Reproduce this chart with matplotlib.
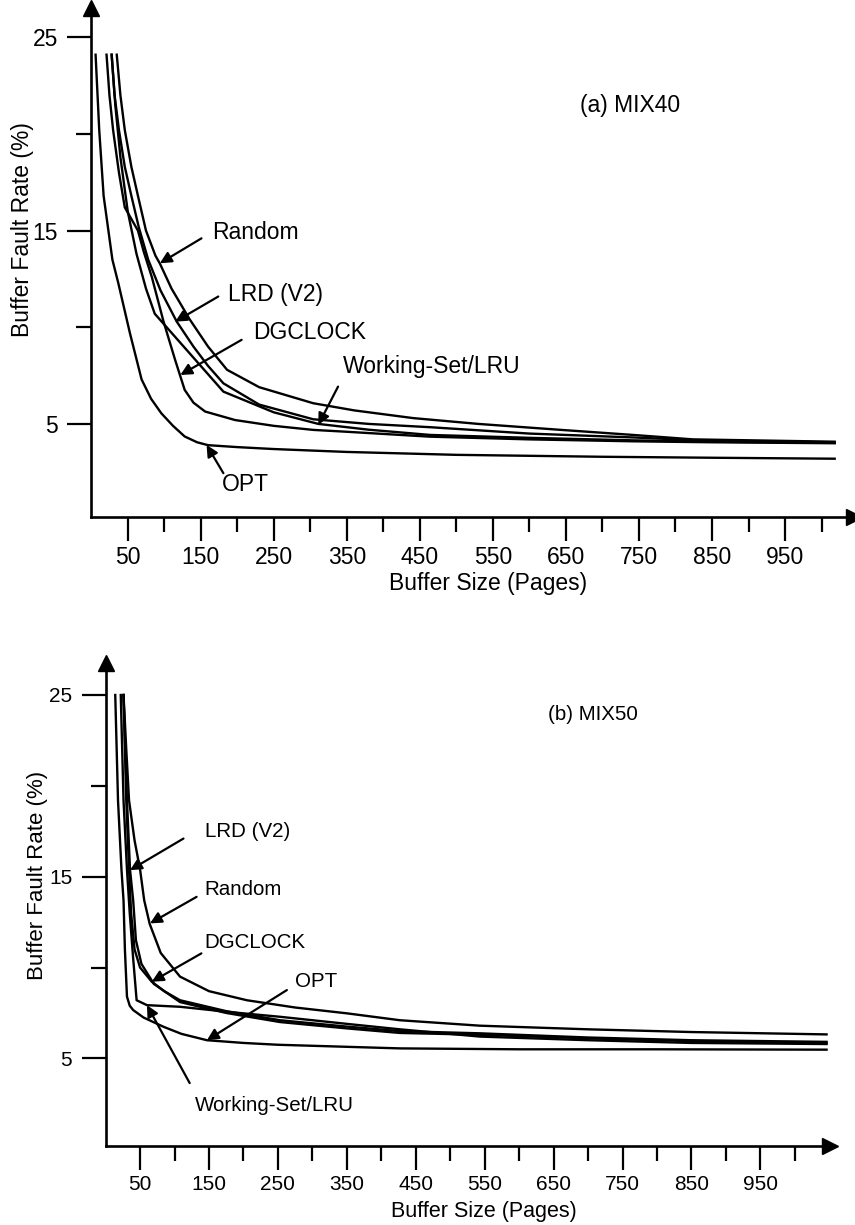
import matplotlib
matplotlib.use("Agg")
import matplotlib.pyplot as plt
from matplotlib.ticker import FixedLocator, NullFormatter

plt.rcParams['font.family'] = ['Liberation Sans', 'DejaVu Sans']

# ---------------- data: panel (a) MIX40 ----------------
a_opt_x = [6, 11, 17, 29, 37, 45, 53, 69, 82, 96, 112, 128, 145, 160, 200, 250, 350, 500, 700, 850, 1018]
a_opt_y = [24.1, 20.2, 16.8, 13.5, 12.3, 11.0, 9.7, 7.3, 6.3, 5.55, 4.9, 4.35, 4.05, 3.9, 3.8, 3.7, 3.55, 3.4, 3.3, 3.25, 3.2]

a_rand_x = [35, 40, 46, 55, 64, 75, 88, 94, 110, 135, 160, 186, 230, 304, 360, 441, 530, 640, 742, 824, 1018]
a_rand_y = [24.1, 22.0, 20.2, 18.3, 16.8, 15.0, 13.7, 13.3, 12.0, 10.4, 9.0, 7.8, 6.9, 6.07, 5.7, 5.3, 5.0, 4.7, 4.43, 4.2, 4.08]

a_lrd_x = [28, 32, 38, 46, 55, 65, 78, 95, 117, 140, 160, 181, 230, 304, 380, 464, 600, 742, 850, 1018]
a_lrd_y = [24.1, 22.0, 20.2, 18.3, 16.8, 15.2, 13.5, 11.9, 10.3, 9.0, 8.0, 7.1, 6.0, 5.24, 5.0, 4.83, 4.5, 4.3, 4.12, 4.05]

a_ws_x = [28, 33, 40, 50, 62, 75, 87, 181, 250, 311, 380, 464, 600, 742, 850, 1018]
a_ws_y = [24.1, 21.5, 18.8, 16.0, 13.8, 12.0, 10.7, 6.67, 5.6, 5.0, 4.7, 4.43, 4.28, 4.15, 4.08, 4.02]

a_dg_x = [21, 25, 30, 38, 46, 55, 64, 72, 83, 99, 115, 128, 140, 156, 197, 250, 304, 347, 464, 600, 742, 850, 1018]
a_dg_y = [24.1, 22.0, 20.2, 18.0, 16.2, 15.6, 15.0, 13.9, 12.6, 10.3, 8.3, 6.76, 6.1, 5.64, 5.2, 4.9, 4.69, 4.6, 4.34, 4.2, 4.1, 4.05, 4.0]

# ---------------- data: panel (b) MIX50 ----------------
b_opt_x = [14, 18, 23, 26, 28, 31, 35, 40, 55, 84, 110, 147, 200, 250, 427, 600, 800, 1046]
b_opt_y = [25.0, 19.2, 15.4, 13.7, 11.0, 8.4, 7.9, 7.66, 7.25, 6.74, 6.35, 6.0, 5.85, 5.75, 5.55, 5.5, 5.5, 5.48]

b_ws_x = [22, 26, 31, 35, 40, 45, 60, 108, 180, 253, 350, 427, 543, 700, 850, 1046]
b_ws_y = [25.0, 19.2, 15.4, 13.0, 10.5, 8.2, 7.93, 7.84, 7.55, 7.29, 6.9, 6.6, 6.2, 6.0, 5.85, 5.79]

b_dg_x = [26, 30, 34, 37, 42, 50, 67, 85, 108, 175, 253, 350, 427, 543, 700, 850, 1046]
b_dg_y = [25.0, 19.2, 15.4, 13.0, 11.0, 10.0, 9.22, 8.7, 8.2, 7.6, 7.1, 6.75, 6.5, 6.38, 6.15, 6.0, 5.91]

b_lrd_x = [26, 31, 35.4, 40, 44, 52, 70, 108, 175, 253, 350, 427, 543, 700, 850, 1046]
b_lrd_y = [25.0, 19.2, 15.4, 13.7, 11.5, 10.2, 9.1, 8.1, 7.5, 7.0, 6.65, 6.4, 6.3, 6.1, 5.95, 5.85]

b_rand_x = [26, 30, 34, 42, 50, 56, 64, 80, 108, 150, 205, 275, 350, 427, 543, 700, 850, 1046]
b_rand_y = [25.0, 22.0, 19.2, 17.0, 15.4, 13.7, 12.4, 10.8, 9.5, 8.7, 8.2, 7.8, 7.48, 7.1, 6.8, 6.6, 6.45, 6.32]

# tick values / labels
y_major = [5, 15, 25]
y_minor = [10, 20]
x_major = [50, 150, 250, 350, 450, 550, 650, 750, 850, 950]
x_minor = [100, 200, 300, 400, 500, 600, 700, 800, 900, 1000]

titles = ["(a) MIX40", "(b) MIX50"]
xlabel = "Buffer Size (Pages)"
ylabel = "Buffer Fault Rate (%)"

# annotations: (text, text position, arrow tail, arrow tip) in data coords
a_notes = [
    ("Random", (165, 14.88), (151, 14.6), (94, 13.31)),
    ("LRD (V2)", (187, 11.67), (174, 11.59), (115, 10.29)),
    ("DGCLOCK", (222, 9.71), (206, 9.35), (122, 7.53)),
    ("Working-Set/LRU", (345, 7.95), (338, 6.93), (311, 4.95)),
    ("OPT", (179, 1.84), (181, 2.45), (158, 3.91)),
]
b_notes = [
    ("LRD (V2)", (144, 17.46), (113, 17.1), (35.4, 15.36)),
    ("Random", (144, 14.32), (132, 13.89), (64.4, 12.43)),
    ("DGCLOCK", (144, 11.4), (139, 10.78), (67, 9.22)),
    ("OPT", (275, 9.25), (263, 8.76), (147, 6.0)),
    ("Working-Set/LRU", (130, 2.43), (122, 3.64), (60, 7.93)),
]

W, H = 855, 1225
fig = plt.figure(figsize=(W / 100, H / 100), dpi=100)


def make_axes(rect, xlim, ylim, tick_fs):
    ax = fig.add_axes(rect)
    ax.set_xlim(*xlim)
    ax.set_ylim(*ylim)
    for s in ("top", "right"):
        ax.spines[s].set_visible(False)
    for s in ("left", "bottom"):
        ax.spines[s].set_linewidth(1.9)
    ax.yaxis.set_major_locator(FixedLocator(y_major))
    ax.yaxis.set_minor_locator(FixedLocator(y_minor))
    ax.xaxis.set_major_locator(FixedLocator(x_major))
    ax.xaxis.set_minor_locator(FixedLocator(x_minor))
    ax.xaxis.set_minor_formatter(NullFormatter())
    ax.yaxis.set_minor_formatter(NullFormatter())
    ax.tick_params(axis='both', which='major', length=17, width=1.6, labelsize=tick_fs)
    ax.tick_params(axis='both', which='minor', length=11, width=1.6)
    ax.tick_params(axis='x', which='major', pad=4)
    ax.tick_params(axis='y', which='major', pad=7)
    # axis arrowheads
    ax.plot([1], [0], marker='>', color='black', markersize=11,
            transform=ax.transAxes, clip_on=False)
    ax.plot([0], [1], marker='^', color='black', markersize=11,
            transform=ax.transAxes, clip_on=False)
    return ax


def draw(ax, series, notes, title, title_pos, fs):
    for xs, ys in series:
        ax.plot(xs, ys, color='black', lw=1.7, solid_joinstyle='round')
    for txt, tpos, tail, tip in notes:
        ax.text(tpos[0], tpos[1], txt, fontsize=fs, ha='left', va='center')
        ax.annotate("", xy=tip, xytext=tail,
                    arrowprops=dict(arrowstyle='-|>', color='black', lw=1.6,
                                    mutation_scale=17, shrinkA=0, shrinkB=0))
    ax.text(title_pos[0], title_pos[1], title, fontsize=fs, ha='left', va='center')


# panel (a)
ax_a = make_axes([91.2 / W, 1 - 516.7 / H, 763.2 / W, 508.4 / H], (0, 1045), (0.2, 26.5), 16.5)
draw(ax_a,
     [(a_opt_x, a_opt_y), (a_rand_x, a_rand_y), (a_lrd_x, a_lrd_y),
      (a_ws_x, a_ws_y), (a_dg_x, a_dg_y)],
     a_notes, titles[0], (669, 21.45), 16.5)

# panel (b)
ax_b = make_axes([105.6 / W, 1 - 1145.6 / H, 724.4 / W, 482.4 / H], (0, 1051), (0.2, 26.75), 15)
draw(ax_b,
     [(b_opt_x, b_opt_y), (b_ws_x, b_ws_y), (b_dg_x, b_dg_y),
      (b_lrd_x, b_lrd_y), (b_rand_x, b_rand_y)],
     b_notes, titles[1], (642, 23.9), 14.8)

# axis labels
fig.text(22 / W, 1 - 230 / H, ylabel, rotation=90, ha='center', va='center', fontsize=16.5)
fig.text(488 / W, 1 - 584 / H, xlabel, ha='center', va='center', fontsize=16.5)
fig.text(37 / W, 1 - 875 / H, ylabel, rotation=90, ha='center', va='center', fontsize=16)
fig.text(484 / W, 1 - 1212 / H, xlabel, ha='center', va='center', fontsize=15.5)

fig.savefig("out.png", dpi=100)
